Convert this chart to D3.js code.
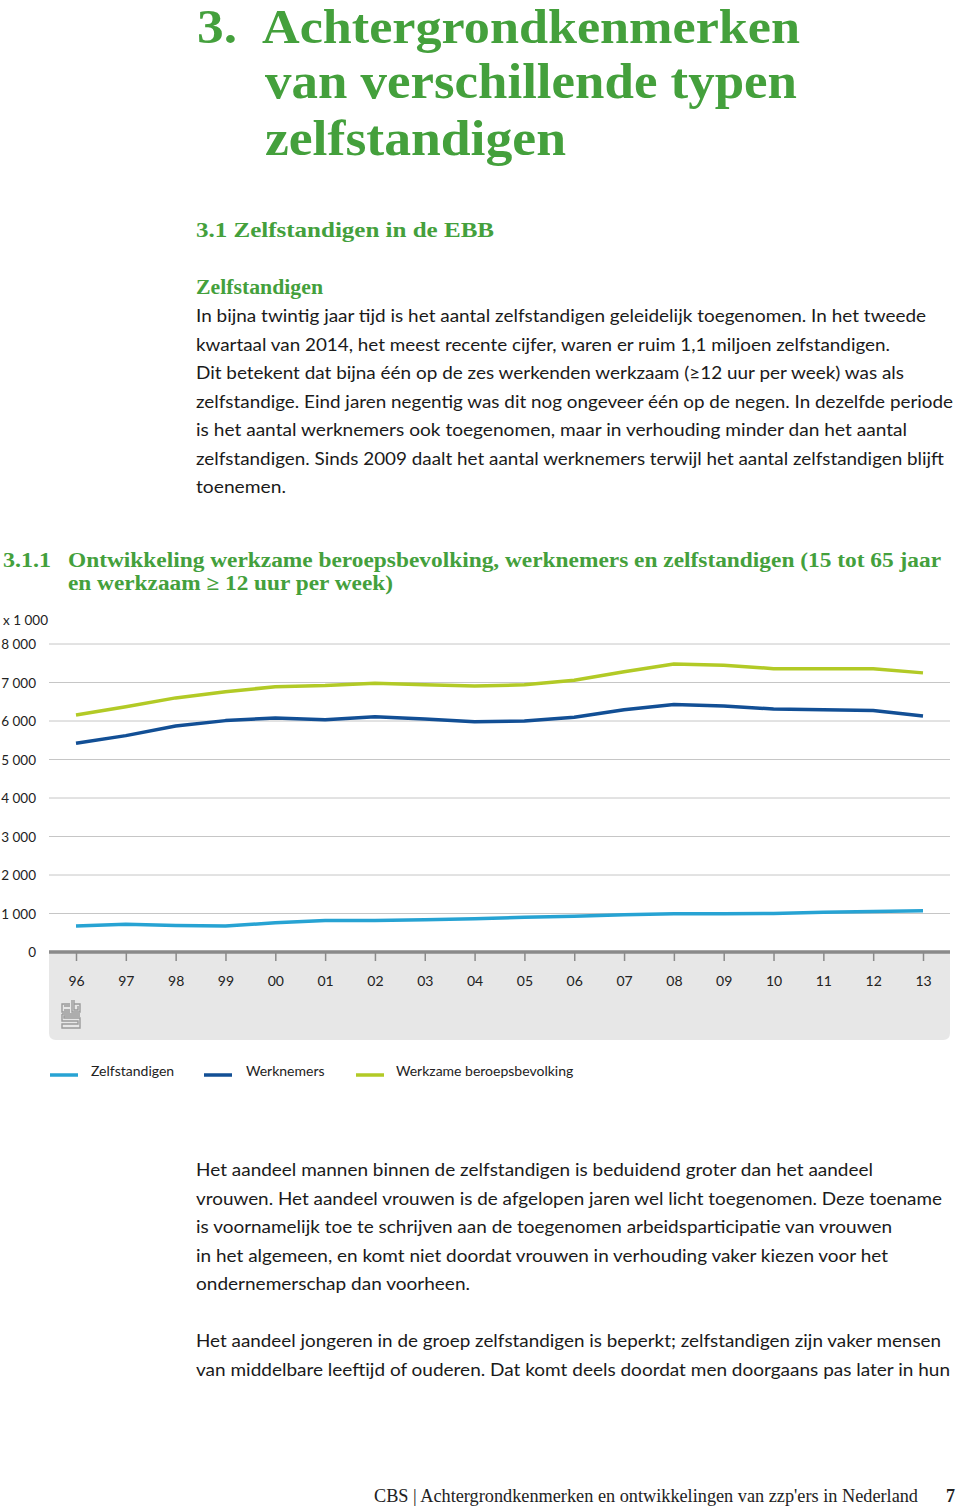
<!DOCTYPE html>
<html><head><meta charset="utf-8">
<script src="https://cdn.jsdelivr.net/npm/d3@7"></script>
<style>body{margin:0;background:#fff}svg{display:block}</style>
</head><body>
<script>
// ---- data ----
const years = ["96","97","98","99","00","01","02","03","04","05","06","07","08","09","10","11","12","13"];
const zelfstandigen = [675,720,690,675,760,820,820,840,865,900,930,970,995,995,1000,1030,1050,1070];
const werknemers = [5420,5620,5870,6010,6080,6030,6110,6050,5980,6000,6100,6290,6430,6390,6310,6290,6270,6130];
const werkzame = [6155,6370,6600,6760,6890,6920,6980,6940,6910,6940,7060,7280,7480,7450,7360,7360,7360,7250];
const yTicks = [0,1000,2000,3000,4000,5000,6000,7000,8000];
const seriesNames = ["Zelfstandigen","Werknemers","Werkzame beroepsbevolking"];
const seriesColors = ["#27a3d3","#124f95","#b2ca26"];

const W = 960, H = 1507;
const green = "#44a03c";
const svg = d3.select("body").append("svg").attr("width", W).attr("height", H);

function txt(x, y, s, o) {
  o = o || {};
  const t = svg.append("text").attr("x", x).attr("y", y).text(s)
    .attr("font-family", o.family || "Lato, 'Open Sans', sans-serif")
    .attr("font-size", o.size || 18)
    .attr("font-weight", o.weight || "normal")
    .attr("fill", o.fill || "#1a1a1a");
  if (o.anchor) t.attr("text-anchor", o.anchor);
  if (o.len) t.attr("textLength", o.len).attr("lengthAdjust", "spacingAndGlyphs");
  return t;
}
const serif = "'Liberation Serif', 'DejaVu Serif', serif";

// ---- page titles ----
txt(197, 43, "3.", {family: serif, weight: "bold", size: 48, fill: green, len: 40});
txt(262, 43, "Achtergrondkenmerken", {family: serif, weight: "bold", size: 48, fill: green, len: 538});
txt(265, 98, "van verschillende typen", {family: serif, weight: "bold", size: 50, fill: green, len: 532});
txt(265, 155, "zelfstandigen", {family: serif, weight: "bold", size: 50, fill: green, len: 301});

txt(196, 237, "3.1  Zelfstandigen in de EBB", {family: serif, weight: "bold", size: 22, fill: green, len: 298});
txt(196, 294, "Zelfstandigen", {family: serif, weight: "bold", size: 20, fill: green, len: 127});

const para1 = [
  ["In bijna twintig jaar tijd is het aantal zelfstandigen geleidelijk toegenomen. In het tweede", 730],
  ["kwartaal van 2014, het meest recente cijfer, waren er ruim 1,1 miljoen zelfstandigen.", 694],
  ["Dit betekent dat bijna één op de zes werkenden werkzaam (≥12 uur per week) was als", 708],
  ["zelfstandige. Eind jaren negentig was dit nog ongeveer één op de negen. In dezelfde periode", 757],
  ["is het aantal werknemers ook toegenomen, maar in verhouding minder dan het aantal", 711],
  ["zelfstandigen. Sinds 2009 daalt het aantal werknemers terwijl het aantal zelfstandigen blijft", 748],
  ["toenemen.", 90]
];
para1.forEach((l, i) => txt(196, 322 + i * 28.5, l[0], {size: 18, len: l[1]}));

// chart title
txt(3, 567, "3.1.1", {family: serif, weight: "bold", size: 20, fill: green, len: 48});
txt(68, 567, "Ontwikkeling werkzame beroepsbevolking, werknemers en zelfstandigen (15 tot 65 jaar", {family: serif, weight: "bold", size: 20, fill: green, len: 873});
txt(68, 590, "en werkzaam ≥ 12 uur per week)", {family: serif, weight: "bold", size: 20, fill: green, len: 325});

// ---- chart ----
const x = d3.scalePoint().domain(years).range([76, 923]);
const y = d3.scaleLinear().domain([0, 8000]).range([952, 644]);
const gx0 = 49, gx1 = 950;

// grey panel below axis
const panelTop = 952, panelBot = 1040, r = 7;
svg.append("path")
  .attr("d", `M${gx0},${panelTop} H${gx1} V${panelBot - r} Q${gx1},${panelBot} ${gx1 - r},${panelBot} H${gx0 + r} Q${gx0},${panelBot} ${gx0},${panelBot - r} Z`)
  .attr("fill", "#e7e7e7");

// gridlines
svg.append("g").selectAll("line").data(yTicks.filter(d => d > 0)).join("line")
  .attr("x1", gx0).attr("x2", gx1)
  .attr("y1", d => y(d)).attr("y2", d => y(d))
  .attr("stroke", "#c6c6c6").attr("stroke-width", 1);

// y tick labels
const fmt = d => d === 0 ? "0" : d3.format(",")(d).replace(",", " ");
svg.append("g").selectAll("text").data(yTicks).join("text")
  .attr("x", 36).attr("y", d => y(d) + 5)
  .attr("text-anchor", "end")
  .attr("font-family", "Lato, 'Open Sans', sans-serif").attr("font-size", 13.5).attr("fill", "#222")
  .text(fmt);
txt(3, 625, "x 1 000", {size: 13.5, fill: "#222"});

// x axis
const xAxis = d3.axisBottom(x).tickSize(9).tickPadding(15);
const ax = svg.append("g").attr("transform", `translate(0,${y(0)})`).call(xAxis);
ax.select(".domain").remove();
ax.selectAll(".tick line").attr("stroke", "#8a8a8a").attr("stroke-width", 1.5);
ax.selectAll(".tick text").attr("font-family", "Lato, 'Open Sans', sans-serif").attr("font-size", 14).attr("fill", "#222");
svg.append("line").attr("x1", gx0).attr("x2", gx1).attr("y1", y(0)).attr("y2", y(0))
  .attr("stroke", "#8a8a8a").attr("stroke-width", 3.5);

// lines
const seriesData = [zelfstandigen, werknemers, werkzame];
const line = d3.line().x((d, i) => x(years[i])).y(d => y(d));
seriesData.forEach((s, k) => {
  svg.append("path").datum(s).attr("d", line)
    .attr("fill", "none").attr("stroke", seriesColors[k])
    .attr("stroke-width", 3.5).attr("stroke-linejoin", "round");
});

// CBS logo (simplified)
const logo = svg.append("g").attr("transform", "translate(61,1000)")
  .attr("fill", "none").attr("stroke", "#9a9a9a").attr("stroke-width", 1.4);
logo.append("path").attr("d", "M9,4 H1 V12 H9 M3,6 H9 M3,10 H9");
logo.append("path").attr("d", "M11,0 V12 H19 V4 H13 M13,0 V10 H17 V6");
logo.append("path").attr("d", "M1,14 H19 M1,14 V21 H17 V24 H1 V28 H19 V18 H3 V16 H19");

// legend
const legX = [50, 204, 356], legT = [91, 246, 396];
seriesNames.forEach((n, k) => {
  svg.append("line").attr("x1", legX[k]).attr("x2", legX[k] + 28)
    .attr("y1", 1075).attr("y2", 1075)
    .attr("stroke", seriesColors[k]).attr("stroke-width", 3.5);
  txt(legT[k], 1076, n, {size: 14, fill: "#222"});
});

// ---- lower paragraphs ----
const para2 = [
  ["Het aandeel mannen binnen de zelfstandigen is beduidend groter dan het aandeel", 677, 1176],
  ["vrouwen. Het aandeel vrouwen is de afgelopen jaren wel licht toegenomen. Deze toename", 746, 1204.5],
  ["is voornamelijk toe te schrijven aan de toegenomen arbeidsparticipatie van vrouwen", 696, 1233],
  ["in het algemeen, en komt niet doordat vrouwen in verhouding vaker kiezen voor het", 692, 1261.5],
  ["ondernemerschap dan voorheen.", 274, 1290],
  ["Het aandeel jongeren in de groep zelfstandigen is beperkt; zelfstandigen zijn vaker mensen", 745, 1347],
  ["van middelbare leeftijd of ouderen. Dat komt deels doordat men doorgaans pas later in hun", 754, 1375.5]
];
para2.forEach(l => txt(196, l[2], l[0], {size: 18, len: l[1]}));

// footer
txt(374, 1502, "CBS | Achtergrondkenmerken en ontwikkelingen van zzp'ers in Nederland", {family: serif, size: 18, fill: "#222", len: 544});
txt(946, 1502, "7", {family: serif, size: 18, weight: "bold", fill: "#222"});
</script>
</body></html>
